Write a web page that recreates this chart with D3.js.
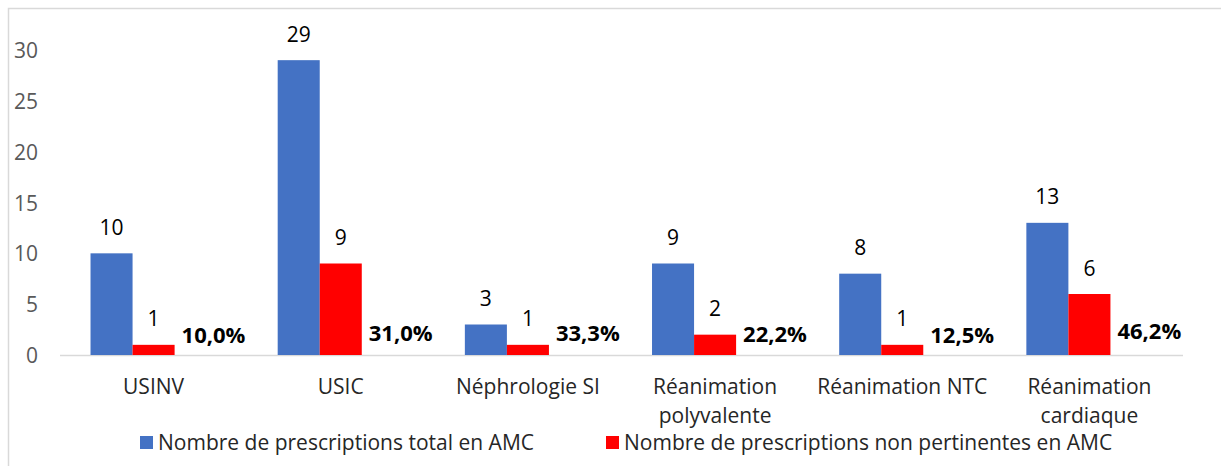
<!DOCTYPE html>
<html>
<head>
<meta charset="utf-8">
<script src="https://cdn.jsdelivr.net/npm/d3@7"></script>
<style>
  body { margin: 0; background: #fff; }
  svg text { font-family: 'Open Sans', sans-serif; }
</style>
</head>
<body>
<div id="chart"></div>
<script>
var categories = ['USINV', 'USIC', 'Néphrologie SI', 'Réanimation polyvalente', 'Réanimation NTC', 'Réanimation cardiaque'];
var totalValues = [10, 29, 3, 9, 8, 13];
var nonPertValues = [1, 9, 1, 2, 1, 6];
var pctValues = [10.0, 31.0, 33.3, 22.2, 12.5, 46.2];
var yTicks = [0, 5, 10, 15, 20, 25, 30];
var seriesNames = ['Nombre de prescriptions total en AMC', 'Nombre de prescriptions non pertinentes en AMC'];

var width = 1221,
    height = 466,
    plotLeft = 60,
    plotRight = 1183,
    plotBottom = 355,
    plotTop = 50,
    colors = ['#4472C4', '#FF0000'];

var svg = d3.select('#chart').append('svg')
    .attr('width', width)
    .attr('height', height);

// chart frame (runs off the right and bottom edges)
svg.append('path')
   .attr('d', 'M8.5,' + (height + 5) + 'V8.5H' + (width + 5))
   .attr('fill', 'none')
   .attr('stroke', '#d9d9d9')
   .attr('stroke-width', 1.5);

var x = d3.scaleBand().domain(categories).range([plotLeft, plotRight]);
var xInner = d3.scaleBand().domain(['total', 'nonPert', 'pct'])
    .range([0, x.bandwidth()]).paddingInner(0).paddingOuter(0.726);
var y = d3.scaleLinear().domain([0, 30]).range([plotBottom, plotTop]);

// y axis labels
var yAxis = d3.axisLeft(y).tickValues(yTicks).tickSize(0).tickPadding(0);
var yG = svg.append('g').attr('transform', 'translate(38,0)').call(yAxis);
yG.select('.domain').remove();
yG.selectAll('text')
  .attr('font-family', "'Open Sans', sans-serif")
  .attr('font-size', '21px')
  .attr('fill', '#595959')
  .attr('dy', '0.36em');

// baseline
svg.append('line')
   .attr('x1', plotLeft).attr('x2', plotRight)
   .attr('y1', y(0) + 0.5).attr('y2', y(0) + 0.5)
   .attr('stroke', '#d9d9d9')
   .attr('stroke-width', 1.5);

var rows = categories.map(function(c, i) {
  return {cat: c, total: totalValues[i], nonPert: nonPertValues[i], pct: pctValues[i]};
});

var groups = svg.append('g').selectAll('g')
    .data(rows)
    .enter().append('g')
    .attr('transform', function(d) { return 'translate(' + x(d.cat) + ',0)'; });

['total', 'nonPert'].forEach(function(key, k) {
  groups.append('rect')
    .attr('x', xInner(key))
    .attr('width', xInner.bandwidth())
    .attr('y', function(d) { return y(d[key]); })
    .attr('height', function(d) { return y(0) - y(d[key]); })
    .attr('fill', colors[k]);

  groups.append('text')
    .attr('x', xInner(key) + xInner.bandwidth() / 2)
    .attr('y', function(d) { return y(d[key]) - 18.5; })
    .attr('text-anchor', 'middle')
    .attr('font-size', '21px')
    .attr('fill', '#000')
    .text(function(d) { return d[key]; });
});

// percentage labels sit above an invisible third series
groups.append('text')
  .attr('x', xInner('pct') + 7)
  .attr('y', function(d) { return y(d.pct / 100) - 11; })
  .attr('font-size', '22px')
  .attr('font-weight', 'bold')
  .attr('fill', '#000')
  .text(function(d) { return d.pct.toFixed(1).replace('.', ',') + '%'; });

// category labels, wrapped to the band width
var catG = svg.append('g').selectAll('text')
    .data(categories)
    .enter().append('text')
    .attr('x', function(d) { return x(d) + x.bandwidth() / 2; })
    .attr('y', 394)
    .attr('text-anchor', 'middle')
    .attr('font-size', '21px')
    .attr('fill', '#262626');

catG.each(function(d) {
  var t = d3.select(this);
  var words = d.split(' ');
  var line = [];
  var lineNo = 0;
  var tspan = t.append('tspan').attr('x', t.attr('x'));
  words.forEach(function(w) {
    line.push(w);
    tspan.text(line.join(' '));
    if (tspan.node().getComputedTextLength() > x.bandwidth() - 10 && line.length > 1) {
      line.pop();
      tspan.text(line.join(' '));
      line = [w];
      lineNo++;
      tspan = t.append('tspan').attr('x', t.attr('x')).attr('dy', 29).text(w);
    }
  });
});

// legend
var legendItems = [{x: 140, name: seriesNames[0], color: colors[0]},
                   {x: 606, name: seriesNames[1], color: colors[1]}];
var legend = svg.append('g').selectAll('g')
    .data(legendItems)
    .enter().append('g')
    .attr('transform', function(d) { return 'translate(' + d.x + ',0)'; });
legend.append('rect')
  .attr('x', 0).attr('y', 436)
  .attr('width', 13).attr('height', 13)
  .attr('fill', function(d) { return d.color; });
legend.append('text')
  .attr('x', 18).attr('y', 450)
  .attr('font-size', '21px')
  .attr('fill', '#262626')
  .text(function(d) { return d.name; });
</script>
</body>
</html>
